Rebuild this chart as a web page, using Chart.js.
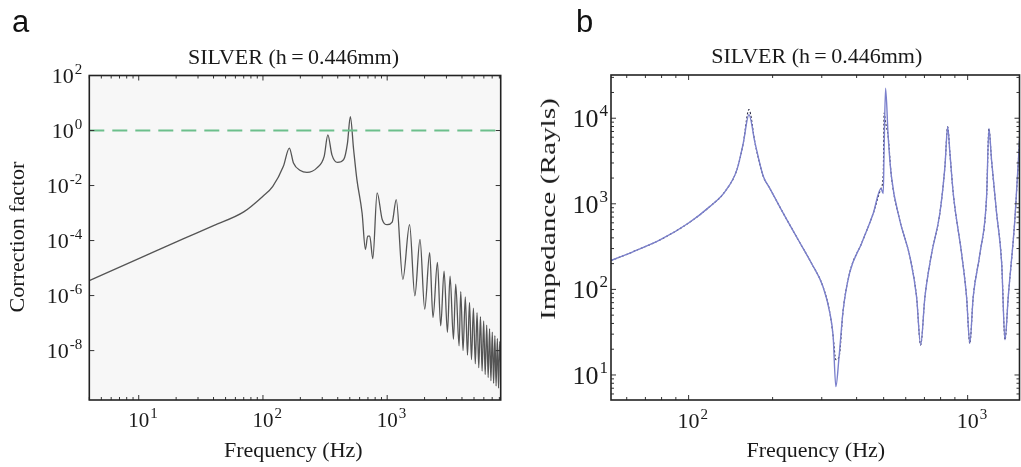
<!DOCTYPE html>
<html>
<head>
<meta charset="utf-8">
<script src="https://cdn.jsdelivr.net/npm/chart.js@4.4.0/dist/chart.umd.min.js"></script>
<style>
  html, body { margin: 0; padding: 0; background: #fff; }
  #wrap { position: relative; width: 1021px; height: 467px; overflow: hidden;
          font-family: "Liberation Serif", "Times New Roman", serif; color: #1a1a1a; }
  canvas { position: absolute; top: 0; }
  .lbl { position: absolute; white-space: nowrap; font-size: 22px; line-height: 22px; }
  .ctr { transform: translateX(-50%); }
  .rot { transform: translate(-50%, -50%) rotate(-90deg); }
  .letter { position: absolute; font-family: "Liberation Sans", Arial, sans-serif;
            font-size: 31px; line-height: 31px; color: #111; }
</style>
</head>
<body>
<div id="wrap">
  <canvas id="chartA" width="510" height="467" style="left:0"></canvas>
  <canvas id="chartB" width="511" height="467" style="left:510px"></canvas>

  <div class="letter" style="left:12px; top:6px">a</div>
  <div class="letter" style="left:576px; top:6px">b</div>

  <div class="lbl ctr" style="left:293.5px; top:45.6px">SILVER (h&thinsp;=&thinsp;0.446mm)</div>
  <div class="lbl ctr" style="left:816.7px; top:45.2px">SILVER (h&thinsp;=&thinsp;0.446mm)</div>

  <div class="lbl ctr" style="left:293.3px; top:439.3px">Frequency (Hz)</div>
  <div class="lbl ctr" style="left:815.8px; top:439.3px">Frequency (Hz)</div>

  <div class="lbl rot" style="left:16.9px; top:237px">Correction factor</div>
  <div class="lbl" style="left:548.1px; top:209px; transform: translate(-50%, -50%) rotate(-90deg) scaleX(1.33)">Impedance (Rayls)</div>
</div>

<script>
// panel a: correction factor vs frequency
const freqA = [4, 10, 23, 40, 70, 100, 120, 146, 163, 176,
  200, 226, 272, 311, 333, 359, 398, 446, 479, 505,
  537, 571, 628, 668, 697, 724, 766, 830, 912, 1000,
  1097, 1183, 1337, 1514, 1670, 1837, 2005, 2198, 2337, 2538,
  2697, 2870, 3055, 3208, 3415, 3562, 3791, 3910, 4080, 4255,
  4430, 4600, 4770, 4945, 5120, 5290, 5460, 5635, 5810, 5980,
  6150, 6325, 6500, 6670, 6840, 7015, 7190, 7360, 7530, 7705,
  7880, 8050, 8200];
const corrA = [3.5e-6, 2.2e-5, 1.17e-4, 3.5e-4, 1.1e-3, 4.1e-3, 9.3e-3, 0.050, 0.23, 0.066,
  0.035, 0.030, 0.044, 0.115, 0.69, 0.13, 0.069, 0.087, 0.35, 3.2,
  0.20, 0.016, 1.0e-3, 4.8e-5, 1.45e-4, 1.45e-4, 2.2e-5, 5.4e-3, 5.8e-4, 3.8e-4,
  4.7e-4, 3.1e-3, 3.9e-6, 3.8e-4, 9.8e-7, 1.1e-4, 3.2e-7, 3.6e-5, 1.6e-7, 1.6e-5,
  7.9e-8, 7.8e-6, 4.6e-8, 5.1e-6, 2.6e-8, 2.6e-6, 1.5e-8, 1.4e-6, 1.0e-8, 8.9e-7,
  6.8e-9, 5.6e-7, 4.7e-9, 3.5e-7, 3.3e-9, 2.4e-7, 2.4e-9, 1.7e-7, 1.8e-9, 1.2e-7,
  1.35e-9, 8.5e-8, 1.05e-9, 6.3e-8, 8.1e-10, 4.7e-8, 6.5e-10, 3.5e-8, 5.2e-10, 2.75e-8,
  4.3e-10, 2.1e-8, 3.2e-9];
const refFreq = [4, 8200];
const refLevel = [1, 1];
const xExpA = [1, 2, 3];
const yExpA = [2, 0, -2, -4, -6, -8];

// panel b: impedance, model (solid) and measured (dotted)
const freqB = [52.7, 63.1, 78.9, 99.7, 119, 135, 149, 157, 164.5, 173,
  185, 195, 215, 247, 275.6, 303, 321, 329.6, 337, 346,
  358, 378, 417, 459, 489, 498.3, 502, 508, 519, 533,
  571, 621, 656, 678.5, 703, 743, 795, 829, 848, 864,
  888, 951, 991, 1018, 1047, 1107, 1169, 1192, 1218, 1270,
  1324, 1361, 1398, 1476, 1537];
const impBlue = [217, 275, 378, 593, 927, 1390, 2510, 5130, 10960, 5130,
  2110, 1535, 851, 380, 202, 108, 52.5, 28.2, 7.3, 16.2,
  57.5, 158, 347, 776, 1510, 1320, 4500, 22400, 6100, 2090,
  646, 240, 82, 22.4, 82, 263, 776, 2720, 7940, 3890,
  1320, 263, 82, 23.4, 82, 263, 1200, 7590, 3240, 776,
  204, 25.7, 82, 646, 6100];
const impDot = [217, 275, 378, 593, 927, 1390, 2510, 5130, 12600, 5130,
  2110, 1535, 851, 380, 202, 108, 52.5, 28.2, 15.1, 16.2,
  57.5, 158, 347, 776, 1510, 2240, 11500, 8900, 6100, 2090,
  646, 240, 82, 22.4, 82, 263, 776, 2720, 7940, 3890,
  1320, 263, 82, 23.4, 82, 263, 1200, 7590, 3240, 776,
  204, 25.7, 82, 646, 6100];
const xExpB = [2, 3];
const yExpB = [1, 2, 3, 4];

const pts = (xs, ys) => xs.map((x, i) => ({ x: x, y: ys[i] }));

// every 1..9 x 10^e inside the range
function logTicks(min, max) {
  const out = [];
  for (let e = Math.floor(Math.log10(min)); e <= Math.ceil(Math.log10(max)); e++) {
    for (let m = 1; m <= 9; m++) {
      const v = m * Math.pow(10, e);
      if (v >= min * 0.999 && v <= max * 1.001) out.push({ v: v, major: m === 1 });
    }
  }
  return out;
}

function powLabel(c, x, y, exp, size, esize, align) {
  c.font = size + 'px "Liberation Serif"';
  const w10 = c.measureText('10').width;
  c.font = esize + 'px "Liberation Serif"';
  const we = c.measureText(String(exp)).width;
  let left;
  if (align === 'center') left = x - w10 / 2;
  else left = x - w10 - we - 1;
  c.textAlign = 'left';
  c.textBaseline = 'alphabetic';
  c.font = size + 'px "Liberation Serif"';
  c.fillText('10', left, y);
  c.font = esize + 'px "Liberation Serif"';
  c.fillText(String(exp), left + w10 + 1, y - size * 0.42);
}

const frame = {
  id: 'frame',
  beforeDatasetsDraw(chart, args, o) {
    const a = chart.chartArea, c = chart.ctx;
    c.save();
    c.fillStyle = o.bg;
    c.fillRect(a.left, a.top, a.right - a.left, a.bottom - a.top);
    c.restore();
  },
  afterDraw(chart, args, o) {
    const c = chart.ctx, a = chart.chartArea, xs = chart.scales.x, ys = chart.scales.y;
    c.save();
    c.strokeStyle = '#333';
    c.lineWidth = 1;
    c.beginPath();
    for (const t of logTicks(xs.min, xs.max)) {
      const px = xs.getPixelForValue(t.v);
      const len = t.major ? 5 : 3;
      c.moveTo(px, a.bottom); c.lineTo(px, a.bottom - len);
      c.moveTo(px, a.top); c.lineTo(px, a.top + len);
    }
    const yt = o.yMinor ? logTicks(ys.min, ys.max)
      : o.yExp.map(e => ({ v: Math.pow(10, e), major: true }));
    for (const t of yt) {
      const py = ys.getPixelForValue(t.v);
      const len = t.major ? 5 : 3;
      c.moveTo(a.left, py); c.lineTo(a.left + len, py);
      c.moveTo(a.right, py); c.lineTo(a.right - len, py);
    }
    c.stroke();

    c.strokeStyle = '#222';
    c.lineWidth = 1.6;
    c.strokeRect(a.left, a.top, a.right - a.left, a.bottom - a.top);

    c.fillStyle = '#1a1a1a';
    for (const e of o.xExp) {
      powLabel(c, xs.getPixelForValue(Math.pow(10, e)), o.xBase, e, o.xSize, o.xESize, 'center');
    }
    for (const e of o.yExp) {
      const py = ys.getPixelForValue(Math.pow(10, e));
      powLabel(c, a.left - o.yGap, py + o.ySize * 0.34, e, o.ySize, o.yESize, 'right');
    }
    c.restore();
  }
};

const chartA = new Chart(document.getElementById('chartA'), {
  type: 'line',
  data: {
    datasets: [
      { data: pts(refFreq, refLevel), borderColor: '#6cbf8c', borderWidth: 2,
        borderDash: [15, 8], pointRadius: 0 },
      { data: pts(freqA, corrA), borderColor: '#555', borderWidth: 1.3,
        pointRadius: 0, cubicInterpolationMode: 'monotone' }
    ]
  },
  options: {
    responsive: false,
    animation: false,
    devicePixelRatio: 1,
    layout: { padding: { left: 89.3, right: 9.3, top: 75.5, bottom: 67 } },
    plugins: {
      legend: { display: false },
      tooltip: { enabled: false },
      frame: { bg: '#f7f7f7', xExp: xExpA, yExp: yExpA, yMinor: false,
        xBase: 427, xSize: 21, xESize: 15, ySize: 22, yESize: 15, yGap: 7 }
    },
    scales: {
      x: { type: 'logarithmic', min: 4, max: 8200, display: false },
      y: { type: 'logarithmic', min: 1.6e-10, max: 100, display: false }
    }
  },
  plugins: [frame]
});

const chartB = new Chart(document.getElementById('chartB'), {
  type: 'line',
  data: {
    datasets: [
      { data: pts(freqB, impBlue), borderColor: '#7b80cc', borderWidth: 1.4,
        pointRadius: 0, cubicInterpolationMode: 'monotone' },
      { data: pts(freqB, impDot), borderColor: '#2b2b45', borderWidth: 1.1,
        borderDash: [2, 2], pointRadius: 0, cubicInterpolationMode: 'monotone' }
    ]
  },
  options: {
    responsive: false,
    animation: false,
    devicePixelRatio: 1,
    layout: { padding: { left: 101, right: 1.5, top: 75, bottom: 67 } },
    plugins: {
      legend: { display: false },
      tooltip: { enabled: false },
      frame: { bg: '#ffffff', xExp: xExpB, yExp: yExpB, yMinor: true,
        xBase: 428.3, xSize: 22, xESize: 15, ySize: 26, yESize: 17, yGap: 3 }
    },
    scales: {
      x: { type: 'logarithmic', min: 52.7, max: 1534, display: false },
      y: { type: 'logarithmic', min: 5.1, max: 32000, display: false }
    }
  },
  plugins: [frame]
});
</script>
</body>
</html>
